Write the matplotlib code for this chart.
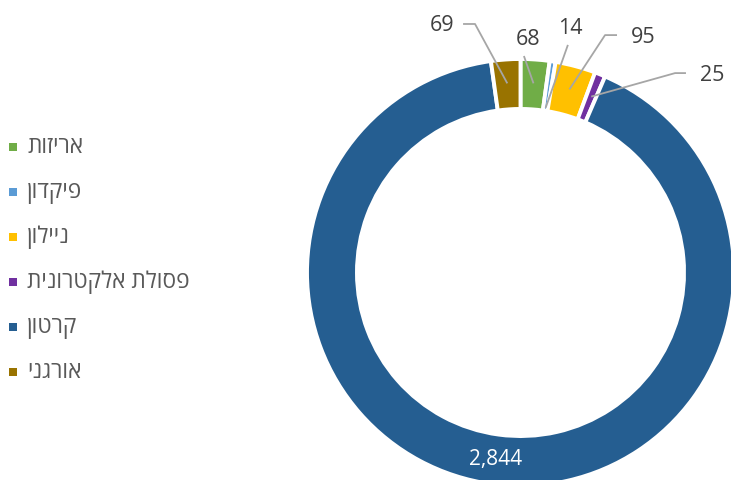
import matplotlib
matplotlib.use("Agg")
import matplotlib.pyplot as plt
import numpy as np
from matplotlib.patches import Rectangle

# ---- data ----
categories = ["אריזות", "פיקדון", "ניילון", "פסולת אלקטרונית", "קרטון", "אורגני"]
values = [68, 14, 95, 25, 2844, 69]
colors = ["#70AD47", "#5B9BD5", "#FFC000", "#7030A0", "#255E91", "#997300"]

# ---- layout (label placement, in data units of the pie axes) ----
# (label_x, label_y, elbow_x, elbow_y, anchor_radius) ; None = inside label
label_layout = [
    (0.035, 1.089, None, None, 0.888),
    (0.232, 1.145, None, None, 0.78),
    (0.574, 1.103, 0.396, 1.112, 0.888),
    (0.897, 0.925, 0.724, 0.934, 0.888),
    None,
    (-0.368, 1.159, -0.213, 1.164, 0.888),
]

W, H, DPI = 7.31, 4.80, 100
fig = plt.figure(figsize=(W, H), dpi=DPI)

cx, cy, R = 520.5, 480 - 272.5, 213.5
ax = fig.add_axes([(cx - R) / 731, (cy - R) / 480, 2 * R / 731, 2 * R / 480])
hole = 0.766
wedges, _ = ax.pie(values, colors=colors, startangle=90, counterclock=False,
                   radius=1.0, wedgeprops=dict(width=1 - hole, edgecolor="white", linewidth=2.8))
ax.set_xlim(-1, 1)
ax.set_ylim(-1, 1)
ax.set_aspect("equal")
ax.axis("off")

num_font = ["Open Sans", "DejaVu Sans"]
total = float(sum(values))
cum = 0.0
for i, v in enumerate(values):
    mid = (cum + v / 2.0) / total
    cum += v
    ang = np.deg2rad(90 - mid * 360)
    txt = f"{v:,}"
    lay = label_layout[i]
    if lay is None:
        r = 0.885
        ax.text(r * np.cos(ang), r * np.sin(ang), txt, ha="center", va="center",
                color="white", fontsize=15, family=num_font)
        continue
    lx, ly, ex, ey, ar = lay
    axp, ayp = ar * np.cos(ang), ar * np.sin(ang)
    ax.text(lx, ly, txt, ha="center", va="center", color="#404040",
            fontsize=15.5, family=num_font, clip_on=False)
    if ex is None:
        if i == 1:
            xs = [0.222, axp]
            ys = [1.066, ayp]
        else:
            xs = [0.016, axp]
            ys = [1.014, ayp]
    else:
        sx = lx + (-0.122 if lx > ex else 0.099)
        xs = [sx, ex, axp]
        ys = [ey, ey, ayp]
    ax.plot(xs, ys, color="#A6A6A6", lw=1.3, clip_on=False, solid_capstyle="butt")

# ---- legend (manual) ----
leg_font = ["Open Sans", "DejaVu Sans"]
y0 = 480 - 147
for i, (cat, col) in enumerate(zip(categories, colors)):
    yc = y0 - i * 45
    sq = 8
    fig.add_artist(Rectangle(((13 - sq / 2) / 731, (yc - sq / 2) / 480), sq / 731, sq / 480,
                             transform=fig.transFigure, facecolor=col, edgecolor="none"))
    fig.text(27 / 731, yc / 480, cat[::-1], ha="left", va="center", color="#595959",
             fontsize=16.3, family=leg_font)

fig.savefig("out.png", dpi=DPI)
